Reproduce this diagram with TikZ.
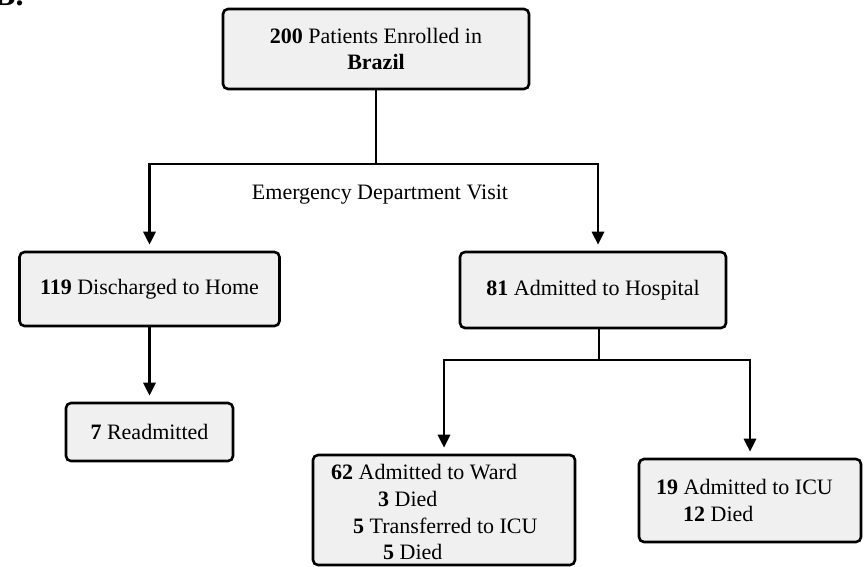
\documentclass[tikz,border=0pt]{standalone}
\usepackage{fontspec}
\setmainfont{Liberation Serif}
\usetikzlibrary{arrows.meta}
\definecolor{boxfill}{HTML}{F0F0F0}
\tikzset{
  box/.style={draw=black, line width=2.6pt, rounded corners=5pt, fill=boxfill, inner sep=0pt, align=center, font=\fontsize{22}{26.5}\selectfont},
  conn/.style={line width=2.8pt},
  arr/.style={conn, -{Triangle[length=13pt,width=12pt]}, shorten >=6pt},
  txt/.style={font=\fontsize{22}{26.5}\selectfont, inner sep=0pt},
}
\begin{document}
\begin{tikzpicture}[x=1pt,y=-1pt]
\clip (0,0) rectangle (864,566);
\node[inner sep=0pt, font=\fontsize{32}{32}\selectfont\bfseries, anchor=base west] (label) at (-6,5) {B.};

\node[box, minimum width=306pt, minimum height=80pt] (enrol) at (376,49) {\textbf{200} Patients Enrolled in\\\textbf{Brazil}};
\node[box, minimum width=260pt, minimum height=74pt] (home) at (149.5,289) {\textbf{119} Discharged to Home};
\node[box, minimum width=167pt, minimum height=58pt] (readmit) at (149.5,432) {\textbf{7} Readmitted};
\node[box, minimum width=266pt, minimum height=76pt] (hosp) at (593,290) {\textbf{81} Admitted to Hospital};
\node[box, minimum width=262pt, minimum height=110pt] (ward) at (444,510) {};
\node[box, minimum width=222pt, minimum height=83pt] (icu) at (750,500.5) {};

\node[txt, anchor=base west] (w1) at (331,479) {\textbf{62} Admitted to Ward};
\node[txt, anchor=base west] (w2) at (378,506) {\textbf{3} Died};
\node[txt, anchor=base west] (w3) at (353,533) {\textbf{5} Transferred to ICU};
\node[txt, anchor=base west] (w4) at (383,559) {\textbf{5} Died};
\node[txt, anchor=base west] (i1) at (656,494) {\textbf{19} Admitted to ICU};
\node[txt, anchor=base west] (i2) at (683,521) {\textbf{12} Died};

\node[txt, anchor=base] (edv) at (380,199) {Emergency Department Visit};

\coordinate (s1) at (376,164);
\coordinate (s2) at (599,360);
\draw[conn] (enrol.south) -- (s1);
\draw[arr] (s1) -| (home.north);
\draw[arr] (s1) -| ([xshift=5pt]hosp.north);
\draw[arr] (home.south) -- (readmit.north);
\draw[conn] (s2 |- hosp.south) -- (s2);
\draw[arr] (s2) -| (ward.north);
\draw[arr] (s2) -| (icu.north);
\end{tikzpicture}
\end{document}
